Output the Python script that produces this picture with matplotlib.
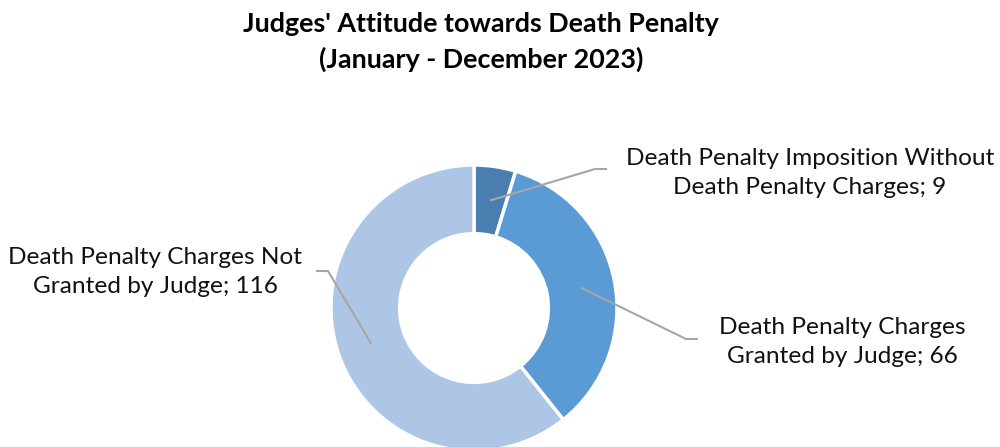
import numpy as np
import matplotlib
matplotlib.use('Agg')
from matplotlib import pyplot as plt

plt.rcParams['font.family'] = ['Lato', 'DejaVu Sans']

# data
labels = ['Death Penalty Imposition Without\nDeath Penalty Charges; 9',
          'Death Penalty Charges\nGranted by Judge; 66',
          'Death Penalty Charges Not\nGranted by Judge; 116']
values = [9, 66, 116]
colors = ['#4A7EB0', '#5B9BD5', '#ADC6E6']

# layout (pixel coords, y up)
W, H = 1000, 447
cx, cy = 474, H - 308
r_out = 143
ring = 0.48
text_pos = [(810, H - 173), (842, H - 342), (155, H - 272)]
elbow = [(595, H - 169), (686, H - 339), (328, H - 271)]
elbow_end = [(607, H - 169), (698, H - 339), (316, H - 271)]

fig = plt.figure(figsize=(10, 4.47), dpi=100)
ax = fig.add_axes([0, 0, 1, 1])

wedges, _ = ax.pie(values, colors=colors, startangle=90, counterclock=False,
                   center=(cx, cy), radius=r_out,
                   wedgeprops=dict(width=r_out * ring, edgecolor='white', linewidth=2.5))
ax.set_xlim(0, W)
ax.set_ylim(0, H)
ax.set_aspect('equal')
ax.axis('off')

r_mid = r_out * (1 - ring / 2)
for i, wdg in enumerate(wedges):
    ang = np.deg2rad((wdg.theta1 + wdg.theta2) / 2)
    sx, sy = cx + r_mid * np.cos(ang), cy + r_mid * np.sin(ang)
    ax.plot([sx, elbow[i][0], elbow_end[i][0]], [sy, elbow[i][1], elbow_end[i][1]],
            color='#A6A6A6', lw=1.5, solid_capstyle='butt')
    ax.text(text_pos[i][0], text_pos[i][1], labels[i], ha='center', va='center',
            fontsize=17.6, linespacing=1.45, color='#111111')

ax.text(481, H - 42, "Judges' Attitude towards Death Penalty\n(January - December 2023)",
        ha='center', va='center', fontsize=19.4, fontweight='bold', linespacing=1.55)

fig.savefig('out.png', dpi=100)
